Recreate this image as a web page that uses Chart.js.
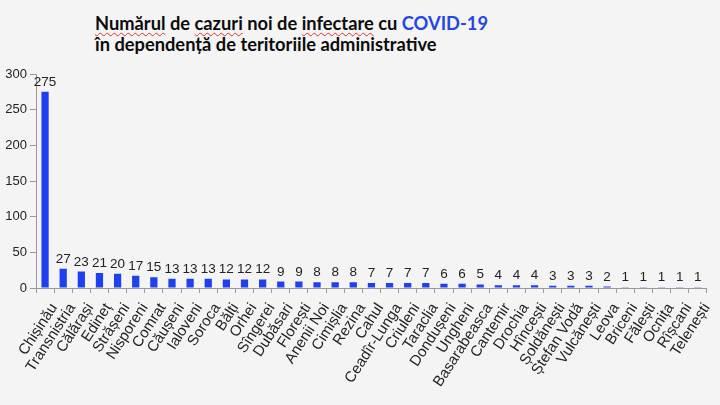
<!DOCTYPE html>
<html lang="ro">
<head>
  <meta charset="UTF-8" />
  <title>Cazuri noi COVID-19</title>
  <script src="https://cdn.jsdelivr.net/npm/chart.js"></script>
  <style>
    html, body {
      margin: 0;
      padding: 0;
      width: 720px;
      height: 405px;
      background: #f4f4f4;
      overflow: hidden;
    }
    .title {
      position: absolute;
      left: 95px;
      top: 13px;
      font-family: Lato, sans-serif;
      font-weight: bold;
      font-size: 18.3px;
      line-height: 21px;
      color: #0c0c0c;
    }
    .title .covid { color: #2247e6; }
    .title .sp {
      text-decoration: underline wavy #d33;
      text-decoration-thickness: 1px;
      text-underline-offset: 2px;
    }
    #wrap {
      position: absolute;
      left: 0;
      top: 60px;
      width: 720px;
      height: 345px;
    }
  </style>
</head>
<body>
  <div class="title">
    <span class="sp">Numărul</span> de <span class="sp">cazuri</span> noi de <span class="sp">infectare</span> cu <span class="covid">COVID-19</span><br>
    în dependență de teritoriile administrative
  </div>
  <div id="wrap"><canvas id="chart"></canvas></div>

  <script>
    const regions = [
      "Chișinău", "Transnistria", "Călărași", "Edineț", "Strășeni", "Nisporeni",
      "Comrat", "Căușeni", "Ialoveni", "Soroca", "Bălți", "Orhei", "Sîngerei",
      "Dubăsari", "Florești", "Anenii Noi", "Cimișlia", "Rezina", "Cahul",
      "Ceadîr-Lunga", "Criuleni", "Taraclia", "Dondușeni", "Ungheni",
      "Basarabeasca", "Cantemir", "Drochia", "Hîncești", "Șoldănești",
      "Ștefan Vodă", "Vulcănești", "Leova", "Briceni", "Fălești", "Ocnița",
      "Rîșcani", "Telenești"
    ];
    const newCases = [
      275, 27, 23, 21, 20, 17, 15, 13, 13, 13, 12, 12, 12, 9, 9, 8, 8, 8, 7,
      7, 7, 7, 6, 6, 5, 4, 4, 4, 3, 3, 3, 2, 1, 1, 1, 1, 1
    ];
    const yTicks = [0, 50, 100, 150, 200, 250, 300];

    const FONT = "'Liberation Sans', Arial, sans-serif";

    // values written over each bar
    const valueLabels = {
      id: "valueLabels",
      afterDatasetsDraw(chart) {
        const ctx = chart.ctx;
        const meta = chart.getDatasetMeta(0);
        ctx.save();
        ctx.font = "13.5px " + FONT;
        ctx.fillStyle = "#222";
        ctx.textAlign = "center";
        ctx.textBaseline = "bottom";
        meta.data.forEach((bar, i) => {
          ctx.fillText(newCases[i], bar.x, bar.y - 3);
        });
        ctx.restore();
      }
    };

    new Chart(document.getElementById("chart"), {
      type: "bar",
      data: {
        labels: regions,
        datasets: [{
          data: newCases,
          backgroundColor: "#1f40ee",
          barPercentage: 0.4,
          categoryPercentage: 1
        }]
      },
      options: {
        responsive: true,
        maintainAspectRatio: false,
        animation: false,
        layout: { padding: { left: 0, right: 10, top: 14, bottom: 0 } },
        plugins: {
          legend: { display: false },
          tooltip: { enabled: false }
        },
        scales: {
          x: {
            afterFit(axis) { axis.height = 117; },
            grid: {
              display: true,
              drawOnChartArea: false,
              drawTicks: true,
              tickLength: 5,
              color: "#999",
              offset: true
            },
            border: { color: "#999" },
            ticks: {
              color: "#222",
              font: { family: FONT, size: 15 },
              minRotation: 57,
              maxRotation: 57,
              autoSkip: false,
              padding: 7,
              labelOffset: 9
            }
          },
          y: {
            min: 0,
            max: 300,
            afterBuildTicks(axis) {
              axis.ticks = yTicks.map(v => ({ value: v }));
            },
            afterFit(axis) { axis.width = 36; },
            grid: {
              display: true,
              drawOnChartArea: false,
              tickLength: 6,
              color: "#999"
            },
            border: { color: "#999" },
            ticks: {
              color: "#222",
              font: { family: FONT, size: 13 },
              padding: 3
            }
          }
        }
      },
      plugins: [valueLabels]
    });
  </script>
</body>
</html>
